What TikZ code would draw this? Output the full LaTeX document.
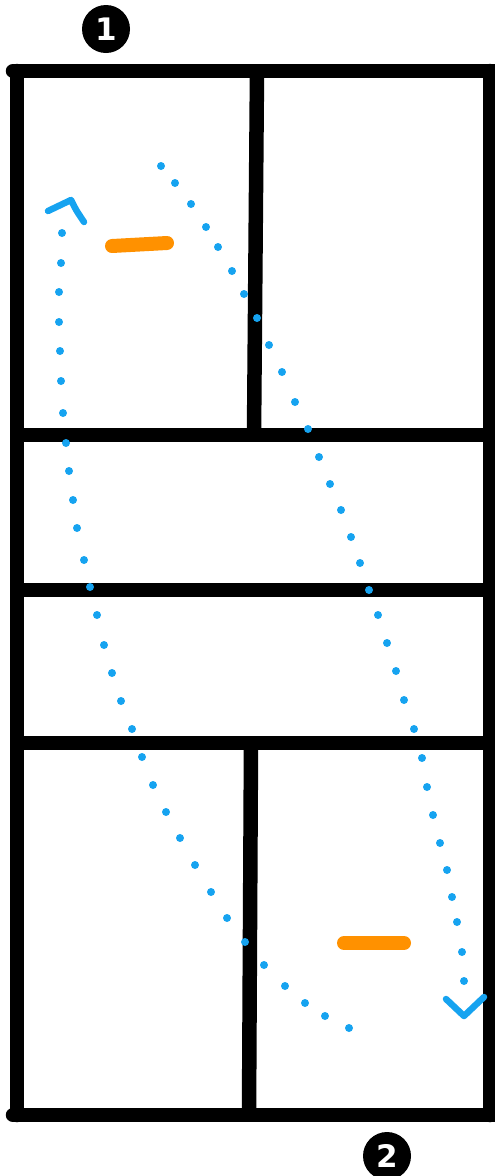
\documentclass[tikz,border=0pt]{standalone}
\usepackage{fontspec}
\setsansfont{DejaVu Sans}
\definecolor{dotblue}{RGB}{22,163,240}
\definecolor{barorange}{RGB}{255,145,0}
\begin{document}
\begin{tikzpicture}[x=1pt,y=-1pt,
  wall/.style={line width=14.5pt, line cap=round, line join=round, black},
  dotmark/.style={fill=dotblue, draw=none},
  tipline/.style={draw=dotblue, line width=6.5pt, line cap=round, line join=round},
  barline/.style={draw=barorange, line width=14pt, line cap=round},
  badge/.style={circle, fill=black, text=white, inner sep=0pt, minimum size=48pt,
    font=\sffamily\bfseries\fontsize{31}{31}\selectfont}]
\useasboundingbox (0,0) rectangle (495,1176);
\begin{scope}
\clip (0,0) rectangle (495,1176);
% frame
\coordinate (tl) at (17,71);
\coordinate (tr) at (490,71);
\coordinate (bl) at (17,1115);
\coordinate (br) at (490,1115);
\draw[wall] (13,71) -- (510,71);
\draw[wall] (tl) -- (bl);
\draw[wall] (13,1115) -- (510,1115);
\draw[wall] (tr) -- (br);
\draw[wall, line cap=butt] (17,435) -- (500,435);
\draw[wall, line cap=butt] (17,590) -- (500,590);
\draw[wall, line cap=butt] (17,743) -- (500,743);
\draw[wall, line cap=butt] (257,71) -- (254,435);
\draw[wall, line cap=butt] (251,743) -- (249,1115);
% orange bars
\draw[barline] (112,246) -- (167,243);
\draw[barline] (344,943) -- (404,943);
% dotted paths
\foreach \x/\y in {62/233,61/263,59/292,59/322,60/351,61/381,63/413,66/443,69/471,73/500,77/528,84/560,90/587,97/615,104/645,112/673,121/701,132/729,142/757,153/785,166/812,180/838,195/865,211/892,227/918,245/942,264/965,285/986,305/1003,325/1016,349/1028}
  \fill[dotmark] (\x,\y) circle (4);
\foreach \x/\y in {161/166,175/183,191/204,206/227,218/247,232/271,244/294,257/318,269/345,282/372,295/402,308/429,319/457,330/484,341/510,351/537,360/563,369/590,378/615,387/643,396/671,404/700,414/729,422/758,427/787,433/815,440/843,447/870,452/897,457/922,462/952,464/981}
  \fill[dotmark] (\x,\y) circle (4);
% arrow tips
\draw[tipline] (48,211) -- (71,200) .. controls (76,210) .. (84,222);
\draw[tipline] (446,999) -- (464,1016) -- (484,997);
\end{scope}
% badges
\node[badge] (n1) at (106,29) {1};
\node[badge] (n2) at (387,1156) {2};
\end{tikzpicture}
\end{document}
